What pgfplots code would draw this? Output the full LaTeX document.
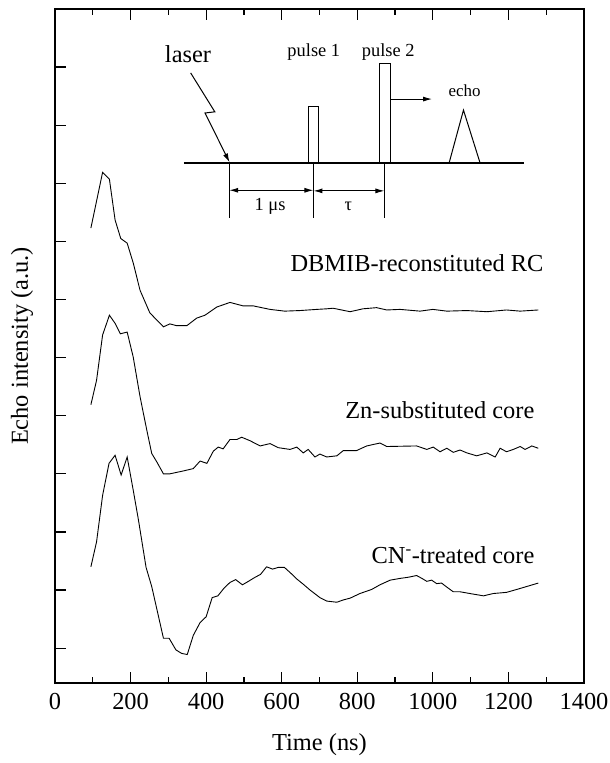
\documentclass[border=0pt]{standalone}
\usepackage{fontspec}
\setmainfont{Liberation Serif}
\usepackage{pgfplots}
\pgfplotsset{compat=1.18}
\usetikzlibrary{arrows.meta}

\newcommand{\lab}{\fontsize{24.5}{29}\selectfont}
\newcommand{\ins}{\fontsize{18.5}{22}\selectfont}

\begin{document}
\begin{tikzpicture}
\begin{axis}[
    scale only axis,
    width=529bp, height=674bp,
    xmin=0, xmax=1400, ymin=0.4, ymax=12,
    xtick={0,200,...,1400},
    minor x tick num=1,
    ytick={1,2,...,11}, yticklabels={},
    xtick pos=both, ytick pos=left,
    tick align=inside,
    major tick length=11bp, minor tick length=6bp,
    major tick style={black, line width=1.2bp},
    minor tick style={black, line width=1.2bp},
    axis line style={line width=1.6bp},
    ticklabel style={font=\lab},
    /pgf/number format/assume math mode=true,
    /pgf/number format/set thousands separator={},
    xticklabel style={yshift=-7bp},
    xlabel={Time (ns)},
    xlabel style={font=\lab, at={(axis description cs:0.5,-0.092)}, anchor=center},
    ylabel={Echo intensity (a.u.)},
    ylabel style={font=\lab, at={(axis description cs:-0.0624,0.5)}, anchor=center},
]
% DBMIB-reconstituted RC
\addplot[black, line width=0.9bp] coordinates {
    (95,8.23) (126,9.19) (144,9.07) (159,8.37) (174,8.05) (191,7.97)
    (207,7.63) (225,7.16) (251,6.77) (287,6.53) (304,6.58) (322,6.55)
    (349,6.55) (375,6.68) (397,6.73) (428,6.87) (463,6.95) (498,6.89)
    (525,6.89) (569,6.83) (608,6.80) (648,6.81) (693,6.83) (719,6.84)
    (736,6.85) (781,6.79) (815,6.84) (851,6.86) (878,6.82) (913,6.83)
    (966,6.80) (1000,6.83) (1037,6.80) (1090,6.81) (1143,6.79) (1195,6.82)
    (1231,6.80) (1279,6.82)
};
% Zn-substituted core
\addplot[black, line width=0.9bp] coordinates {
    (95,5.19) (110,5.61) (126,6.39) (144,6.73) (159,6.59) (173,6.41)
    (191,6.44) (207,6.01) (225,5.33) (243,4.75) (256,4.35) (269,4.21)
    (287,4.00) (304,4.00) (340,4.05) (366,4.09) (384,4.22) (402,4.18)
    (419,4.39) (432,4.46) (445,4.43) (463,4.59) (481,4.59) (494,4.63)
    (516,4.57) (543,4.48) (569,4.52) (591,4.45) (622,4.42) (640,4.46)
    (657,4.36) (670,4.42) (688,4.29) (701,4.34) (719,4.29) (746,4.31)
    (763,4.40) (798,4.40) (825,4.48) (860,4.53) (878,4.47) (957,4.48)
    (984,4.42) (1001,4.46) (1019,4.38) (1037,4.44) (1054,4.37) (1072,4.41)
    (1090,4.36) (1116,4.31) (1143,4.36) (1165,4.29) (1178,4.44) (1195,4.38)
    (1213,4.42) (1231,4.47) (1244,4.42) (1262,4.48) (1279,4.44)
};
% CN- treated core
\addplot[black, line width=0.9bp] coordinates {
    (95,2.40) (110,2.83) (126,3.63) (143,4.18) (159,4.32) (175,3.98)
    (191,4.29) (207,3.72) (221,3.20) (241,2.39) (256,2.06) (287,1.17)
    (302,1.17) (320,0.97) (335,0.91) (350,0.89) (366,1.22) (384,1.44)
    (400,1.54) (416,1.87) (431,1.90) (447,2.03) (463,2.13) (478,2.18)
    (496,2.09) (512,2.15) (527,2.21) (544,2.27) (560,2.40) (576,2.36)
    (591,2.39) (607,2.39) (624,2.29) (640,2.19) (657,2.10) (675,2.00)
    (701,1.87) (719,1.81) (746,1.79) (763,1.83) (781,1.86) (807,1.94)
    (838,2.01) (860,2.09) (887,2.17) (913,2.20) (935,2.22) (957,2.25)
    (971,2.20) (984,2.15) (997,2.17) (1010,2.11) (1023,2.12) (1037,2.05)
    (1054,1.97) (1072,1.97) (1098,1.94) (1134,1.90) (1160,1.94) (1195,1.96)
    (1222,2.01) (1248,2.06) (1279,2.12)
};
\node[anchor=east, font=\lab] at (axis cs:1302,7.63) {DBMIB-reconstituted RC};
\node[anchor=east, font=\lab] at (axis cs:1278,5.10) {Zn-substituted core};
\node[anchor=east, font=\lab] at (axis cs:1278,2.60) {CN\textsuperscript{-}-treated core};

% inset: pulse sequence
\draw[line width=1.1bp] (axis cs:341,9.35) -- (axis cs:1241,9.35);
\draw[line width=1bp] (axis cs:670,9.35) rectangle (axis cs:697,10.33);
\draw[line width=1bp] (axis cs:858,9.35) rectangle (axis cs:887,11.06);
\draw[line width=1bp] (axis cs:1043,9.35) -- (axis cs:1081,10.26) -- (axis cs:1125,9.35);
\draw[line width=1bp, -{Latex[length=9bp,width=5bp]}] (axis cs:887,10.45) -- (axis cs:998,10.45);
\draw[line width=1bp, -{Latex[length=9bp,width=5bp]}]
    (axis cs:359,10.90) -- (axis cs:423,10.23) -- (axis cs:397,10.21) -- (axis cs:462,9.36);
\draw[line width=1bp] (axis cs:461,9.35) -- (axis cs:461,8.40);
\draw[line width=1bp] (axis cs:684,9.35) -- (axis cs:684,8.40);
\draw[line width=1bp] (axis cs:872,9.35) -- (axis cs:872,8.40);
\draw[line width=1bp, {Latex[length=9bp,width=5bp]}-{Latex[length=9bp,width=5bp]}] (axis cs:461,8.88) -- (axis cs:684,8.88);
\draw[line width=1bp, {Latex[length=9bp,width=5bp]}-{Latex[length=9bp,width=5bp]}] (axis cs:684,8.87) -- (axis cs:872,8.87);
\node[font=\lab] at (axis cs:352,11.22) {laser};
\node[font=\ins] at (axis cs:685,11.26) {pulse 1};
\node[font=\ins] at (axis cs:882,11.26) {pulse 2};
\node[font=\fontsize{17}{20}\selectfont] at (axis cs:1084,10.60) {echo};
\node[font=\ins] at (axis cs:569,8.60) {1 μs};
\node[font=\ins] at (axis cs:776,8.61) {τ};
\end{axis}
\pgfresetboundingbox
\path ([shift={(-55bp,-80bp)}]current axis.south west) rectangle ([shift={(26bp,9bp)}]current axis.north east);
\end{tikzpicture}
\end{document}
